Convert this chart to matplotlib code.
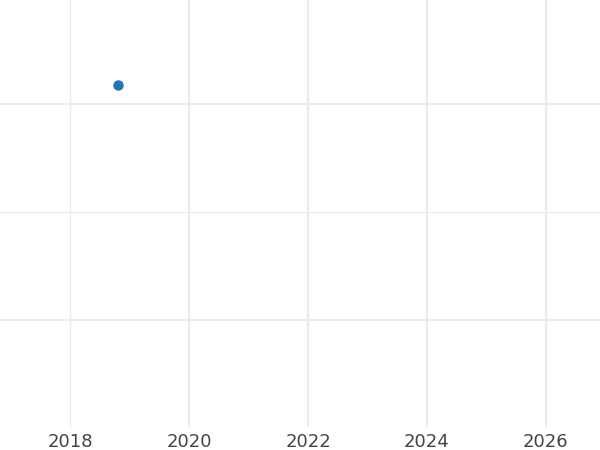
import matplotlib
matplotlib.use("Agg")
import matplotlib.pyplot as plt

# Data
years = [2018.81]
values = [3.17]
x_ticks = [2018, 2020, 2022, 2024, 2026]
y_grid = [1, 2, 3]

fig = plt.figure(figsize=(6, 4.5), dpi=100)
ax = fig.add_axes([0, 0.051, 1, 0.949])

ax.set_xlim(2016.82, 2026.91)
ax.set_ylim(0.01, 3.96)

# Gridlines (thin at first x tick and middle y value)
for t in x_ticks:
    lw = 1.0 if t == x_ticks[0] else 1.5
    ax.axvline(t, color="#ebebeb", lw=lw, zorder=0)
for i, v in enumerate(y_grid):
    lw = 0.8 if i == 1 else 1.5
    ax.axhline(v, color="#ebebeb", lw=lw, zorder=0)

ax.plot(years, values, "o", color="#1f77b4", markersize=6.5, zorder=3)

ax.set_xticks(x_ticks)
ax.set_xticklabels([str(t) for t in x_ticks])
ax.set_yticks([])
ax.tick_params(axis="x", length=0, labelsize=13, labelcolor="#444444", pad=4)
for s in ax.spines.values():
    s.set_visible(False)

fig.savefig("out.png", dpi=100)
